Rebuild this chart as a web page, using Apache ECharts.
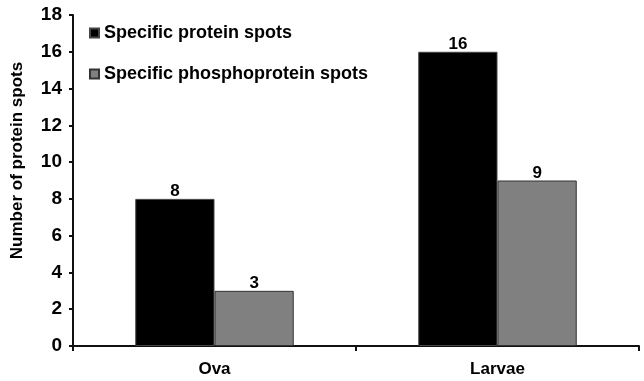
<!DOCTYPE html>
<html>
<head>
<meta charset="utf-8">
<script src="https://cdn.jsdelivr.net/npm/echarts@6/dist/echarts.min.js"></script>
<style>
  html, body { margin: 0; padding: 0; background: #fff; }
  #chart { width: 644px; height: 381px; }
</style>
</head>
<body>
<div id="chart"></div>
<script>
// Data
const categories = ['Ova', 'Larvae'];
const proteinSpots = [8, 16];
const phosphoSpots = [3, 9];
const seriesNames = ['Specific protein spots', 'Specific phosphoprotein spots'];

const font = '"Liberation Sans", Arial, sans-serif';
const axisColor = '#111';

let myChart = echarts.init(document.getElementById('chart'));

const labelStyle = {
    show: true,
    position: 'top',
    distance: -1,
    color: '#000',
    fontFamily: font,
    fontWeight: 'bold',
    fontSize: 17
};

const option = {
    backgroundColor: '#fff',
    animation: false,
    grid: { left: 73, right: 5, top: 15, bottom: 35 },
    legend: {
        orient: 'vertical',
        left: 84,
        top: 19,
        itemWidth: 9,
        itemHeight: 9,
        itemGap: 23,
        icon: 'rect',
        textStyle: { fontFamily: font, fontWeight: 'bold', fontSize: 18, color: '#000' },
        data: seriesNames
    },
    xAxis: {
        type: 'category',
        data: categories,
        axisLine: { lineStyle: { color: axisColor, width: 2 } },
        axisTick: { show: true, length: 5, lineStyle: { color: axisColor, width: 2 } },
        axisLabel: { color: '#000', fontFamily: font, fontWeight: 'bold', fontSize: 17, margin: 15 }
    },
    yAxis: {
        type: 'value',
        min: 0,
        max: 18,
        interval: 2,
        name: 'Number of protein spots',
        nameLocation: 'middle',
        nameGap: 47,
        nameTextStyle: { fontFamily: font, fontWeight: 'bold', fontSize: 17, color: '#000', padding: [0, 0, 0, 40] },
        splitLine: { show: false },
        axisLine: { show: true, lineStyle: { color: axisColor, width: 2 } },
        axisTick: { show: true, length: 4, lineStyle: { color: axisColor, width: 2 } },
        axisLabel: { color: '#000', fontFamily: font, fontWeight: 'bold', fontSize: 19, margin: 11 }
    },
    series: [
        {
            name: seriesNames[0],
            type: 'bar',
            data: proteinSpots,
            barGap: '0%',
            barCategoryGap: '44%',
            itemStyle: { color: '#000', borderColor: '#444', borderWidth: 1 },
            label: labelStyle
        },
        {
            name: seriesNames[1],
            type: 'bar',
            data: phosphoSpots,
            itemStyle: { color: '#808080', borderColor: '#333', borderWidth: 1 },
            label: labelStyle
        }
    ]
};

myChart.setOption(option, true);
</script>
</body>
</html>
